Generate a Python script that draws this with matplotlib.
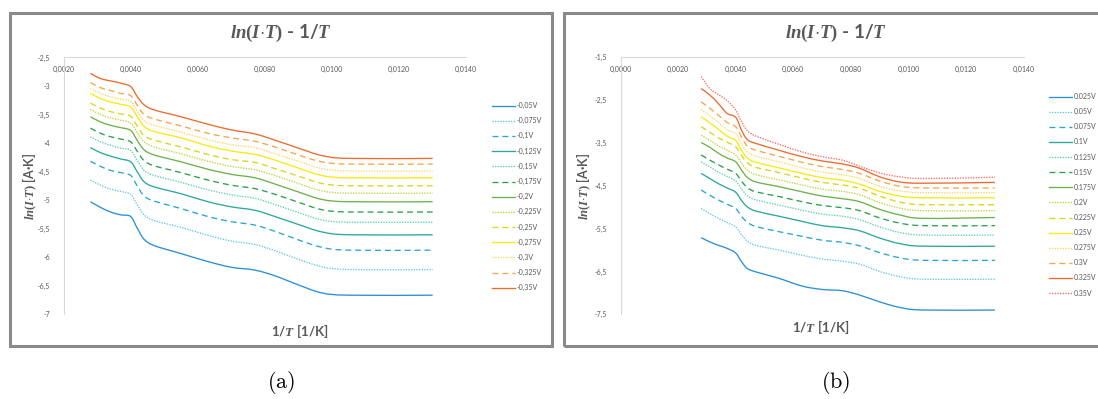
import matplotlib
matplotlib.use('Agg')
import matplotlib.pyplot as plt
from matplotlib.patches import Rectangle, PathPatch
from matplotlib.path import Path
from matplotlib.lines import Line2D
from matplotlib.ticker import FuncFormatter

plt.rcParams['font.family'] = ['Lato', 'DejaVu Sans']
plt.rcParams['mathtext.fontset'] = 'custom'
plt.rcParams['mathtext.it'] = 'Liberation Serif:italic:bold'
plt.rcParams['mathtext.rm'] = 'Liberation Serif:bold'

# 1/T [1/K] sample points shared by every curve
inv_T = [0.0028, 0.0031, 0.0034, 0.0037, 0.0040, 0.0042, 0.0044, 0.0047, 0.0055,
         0.0063, 0.0070, 0.0077, 0.0083, 0.0090, 0.0097, 0.0105, 0.0130]

# panel (a): negative bias
labels_a = ['-0,05V', '-0,075V', '-0,1V', '-0,125V', '-0,15V', '-0,175V', '-0,2V',
            '-0,225V', '-0,25V', '-0,275V', '-0,3V', '-0,325V', '-0,35V']
lnIT_a = [
    [-5.03, -5.13, -5.21, -5.26, -5.29, -5.50, -5.69, -5.80, -5.94, -6.08, -6.18, -6.23, -6.33, -6.49, -6.63, -6.67, -6.67],
    [-4.65, -4.74, -4.81, -4.85, -4.90, -5.09, -5.26, -5.36, -5.48, -5.62, -5.72, -5.78, -5.89, -6.04, -6.17, -6.22, -6.22],
    [-4.32, -4.41, -4.48, -4.52, -4.57, -4.76, -4.93, -5.02, -5.15, -5.29, -5.38, -5.44, -5.55, -5.70, -5.83, -5.88, -5.88],
    [-4.08, -4.17, -4.23, -4.28, -4.33, -4.51, -4.68, -4.77, -4.89, -5.03, -5.12, -5.18, -5.29, -5.43, -5.56, -5.61, -5.61],
    [-3.89, -3.98, -4.04, -4.09, -4.13, -4.31, -4.48, -4.57, -4.69, -4.82, -4.91, -4.97, -5.08, -5.22, -5.35, -5.39, -5.39],
    [-3.74, -3.83, -3.89, -3.93, -3.98, -4.15, -4.31, -4.40, -4.52, -4.65, -4.74, -4.80, -4.90, -5.04, -5.17, -5.21, -5.21],
    [-3.54, -3.63, -3.69, -3.73, -3.78, -3.96, -4.12, -4.21, -4.33, -4.46, -4.55, -4.61, -4.72, -4.86, -4.99, -5.03, -5.03],
    [-3.41, -3.50, -3.56, -3.60, -3.65, -3.82, -3.98, -4.07, -4.19, -4.32, -4.41, -4.47, -4.57, -4.71, -4.84, -4.88, -4.88],
    [-3.30, -3.39, -3.45, -3.49, -3.53, -3.71, -3.87, -3.95, -4.07, -4.20, -4.29, -4.34, -4.45, -4.58, -4.71, -4.75, -4.75],
    [-3.13, -3.22, -3.28, -3.32, -3.37, -3.54, -3.71, -3.80, -3.91, -4.05, -4.14, -4.20, -4.30, -4.44, -4.57, -4.61, -4.61],
    [-3.04, -3.13, -3.19, -3.23, -3.27, -3.45, -3.61, -3.69, -3.81, -3.94, -4.03, -4.08, -4.19, -4.32, -4.45, -4.49, -4.49],
    [-2.94, -3.03, -3.08, -3.13, -3.17, -3.34, -3.50, -3.58, -3.70, -3.83, -3.91, -3.97, -4.07, -4.21, -4.33, -4.37, -4.37],
    [-2.78, -2.87, -2.91, -2.95, -3.01, -3.19, -3.33, -3.42, -3.54, -3.67, -3.77, -3.84, -3.95, -4.09, -4.22, -4.27, -4.27],
]

# panel (b): positive bias
labels_b = ['0.025V', '0.05V', '0.075V', '0.1V', '0.125V', '0.15V', '0.175V',
            '0.2V', '0.225V', '0.25V', '0.275V', '0.3V', '0.325V', '0.35V']
lnIT_b = [
    [-5.71, -5.81, -5.89, -5.96, -6.07, -6.27, -6.43, -6.51, -6.66, -6.84, -6.92, -6.95, -7.05, -7.21, -7.34, -7.40, -7.40],
    [-5.03, -5.15, -5.26, -5.36, -5.46, -5.64, -5.79, -5.89, -6.00, -6.12, -6.21, -6.26, -6.33, -6.50, -6.62, -6.68, -6.68],
    [-4.60, -4.72, -4.83, -4.93, -5.03, -5.21, -5.35, -5.45, -5.57, -5.68, -5.77, -5.82, -5.90, -6.06, -6.18, -6.24, -6.24],
    [-4.21, -4.33, -4.45, -4.55, -4.65, -4.84, -4.99, -5.09, -5.21, -5.33, -5.43, -5.48, -5.55, -5.72, -5.85, -5.91, -5.91],
    [-3.94, -4.06, -4.18, -4.28, -4.39, -4.57, -4.73, -4.83, -4.95, -5.07, -5.16, -5.21, -5.29, -5.46, -5.59, -5.65, -5.65],
    [-3.78, -3.90, -4.01, -4.11, -4.21, -4.39, -4.54, -4.64, -4.75, -4.87, -4.96, -5.01, -5.08, -5.25, -5.37, -5.43, -5.43],
    [-3.49, -3.60, -3.74, -3.85, -3.94, -4.13, -4.30, -4.41, -4.52, -4.64, -4.74, -4.80, -4.87, -5.05, -5.18, -5.26, -5.24],
    [-3.32, -3.44, -3.57, -3.67, -3.78, -3.97, -4.13, -4.24, -4.36, -4.48, -4.58, -4.63, -4.71, -4.89, -5.02, -5.08, -5.08],
    [-3.12, -3.25, -3.38, -3.48, -3.59, -3.79, -3.96, -4.07, -4.19, -4.32, -4.42, -4.48, -4.56, -4.74, -4.88, -4.94, -4.94],
    [-2.89, -3.03, -3.18, -3.34, -3.44, -3.67, -3.85, -3.95, -4.08, -4.21, -4.31, -4.37, -4.46, -4.63, -4.74, -4.78, -4.78],
    [-2.72, -2.87, -3.02, -3.19, -3.28, -3.52, -3.71, -3.81, -3.94, -4.08, -4.18, -4.24, -4.33, -4.51, -4.62, -4.66, -4.66],
    [-2.54, -2.69, -2.85, -3.02, -3.12, -3.36, -3.57, -3.67, -3.81, -3.95, -4.05, -4.12, -4.21, -4.39, -4.51, -4.55, -4.55],
    [-2.23, -2.38, -2.58, -2.81, -2.90, -3.20, -3.42, -3.51, -3.67, -3.82, -3.92, -3.99, -4.09, -4.29, -4.41, -4.44, -4.42],
    [-1.95, -2.23, -2.37, -2.51, -2.73, -3.00, -3.21, -3.34, -3.53, -3.71, -3.82, -3.90, -4.04, -4.20, -4.29, -4.33, -4.30],
]

colors = ['#2b8fd8', '#5cc6ef', '#27a6d6', '#2ba89c', '#5ccfb0', '#27a24c', '#6cb24a',
          '#b9d43c', '#d9d619', '#fbe90f', '#f9d765', '#f3a64c', '#ee6a2c', '#f26b6b']
styles = ['-', (0, (1, 1)), (0, (4.5, 3))]

grey = '#595959'

fig = plt.figure(figsize=(10.98, 3.99), dpi=100)
W, H = 1098.0, 399.0


def fx(px):
    return px / W


def fy(py):
    return 1 - py / H


def comma(v, decimals):
    s = ('%.' + str(decimals) + 'f') % v
    return s.replace('.', ',')


def yfmt(v, pos):
    if abs(v - round(v)) < 1e-9:
        return '%d' % round(v)
    return comma(v, 1)


def smooth_path(xs, ys):
    # Excel-style smoothed line: cubic bezier between the data points
    pts = list(zip(xs, ys))
    verts = [pts[0]]
    codes = [Path.MOVETO]
    n = len(pts)
    for i in range(n - 1):
        p0 = pts[max(i - 1, 0)]
        p1 = pts[i]
        p2 = pts[i + 1]
        p3 = pts[min(i + 2, n - 1)]
        c1 = (p1[0] + (p2[0] - p0[0]) / 6, p1[1] + (p2[1] - p0[1]) / 6)
        c2 = (p2[0] - (p3[0] - p1[0]) / 6, p2[1] - (p3[1] - p1[1]) / 6)
        verts += [c1, c2, p2]
        codes += [Path.CURVE4] * 3
    return Path(verts, codes)


def panel(frame, box, xlim, ylim, yticks, series, labels, leg_xy, title_x, xlab_xy, caption):
    # chart frame
    fig.patches.append(Rectangle((fx(frame[0]), fy(frame[3])), fx(frame[2] - frame[0]),
                                 (frame[3] - frame[1]) / H, transform=fig.transFigure,
                                 fill=False, edgecolor='#8a8a8a', linewidth=2.2))
    ax = fig.add_axes([fx(box[0]), fy(box[3]), fx(box[2] - box[0]), (box[3] - box[1]) / H])
    handles = []
    for k, vals in enumerate(series):
        ax.add_patch(PathPatch(smooth_path(inv_T, vals), fill=False, edgecolor=colors[k],
                               linestyle=styles[k % 3], linewidth=0.95))
        handles.append(Line2D([], [], color=colors[k], linestyle=styles[k % 3], linewidth=0.95))
    ax.set_xlim(*xlim)
    ax.set_ylim(*ylim)
    ax.set_xticks([xlim[0] + 0.002 * i for i in range(int(round((xlim[1] - xlim[0]) / 0.002)) + 1)])
    ax.set_yticks(yticks)
    ax.xaxis.set_major_formatter(FuncFormatter(lambda v, p: comma(v, 4)))
    ax.yaxis.set_major_formatter(FuncFormatter(yfmt))
    ax.tick_params(axis='x', top=False, bottom=False, labeltop=True, labelbottom=False,
                   pad=-14.8, labelsize=5, labelcolor=grey)
    ax.tick_params(axis='y', left=False, pad=6, labelsize=5, labelcolor=grey)
    for s in ['right', 'bottom']:
        ax.spines[s].set_visible(False)
    for s in ['left', 'top']:
        ax.spines[s].set_color('#d9d9d9')
        ax.spines[s].set_linewidth(0.8)
    ax.legend(handles, labels, loc='upper left', bbox_to_anchor=(fx(leg_xy[0]), fy(leg_xy[1])),
              bbox_transform=fig.transFigure, frameon=False, fontsize=5,
              handlelength=3.3, handletextpad=0.25, labelspacing=1.17,
              borderpad=0, borderaxespad=0, labelcolor=grey)
    fig.text(fx(title_x), fy(33), r'$ln(I{\cdot}T)$ - 1/$T$', ha='center', va='center',
             fontsize=13.5, fontweight='bold', color=grey)
    fig.text(fx(xlab_xy[0]), fy(xlab_xy[1]), r'1/$T$ [1/K]', ha='center', va='center',
             fontsize=9.5, fontweight='bold', color=grey)
    fig.text(fx(frame[0] + 20), fy(186), r'$ln(I{\cdot}T)$ [A·K]', ha='center', va='center',
             rotation=90, fontsize=9, fontweight='bold', color=grey)
    fig.text(fx(title_x), fy(383), caption, ha='center', va='center', fontsize=16,
             math_fontfamily='cm', color='black')
    return ax


panel((10, 13, 552, 346), (63.6, 57.5, 466.2, 314.0), (0.002, 0.014), (-7, -2.5),
      [-2.5 - 0.5 * i for i in range(10)], lnIT_a, labels_a, (492, 102), 281, (300, 331),
      r'$\mathrm{(a)}$')
panel((564, 13, 1108, 346), (620.5, 57.3, 1023.7, 314.3), (0.0, 0.014), (-7.5, -1.5),
      [-1.5 - 1.0 * i for i in range(7)], lnIT_b, labels_b, (1049, 93), 836, (821, 327),
      r'$\mathrm{(b)}$')

fig.savefig('out.png', dpi=100)
